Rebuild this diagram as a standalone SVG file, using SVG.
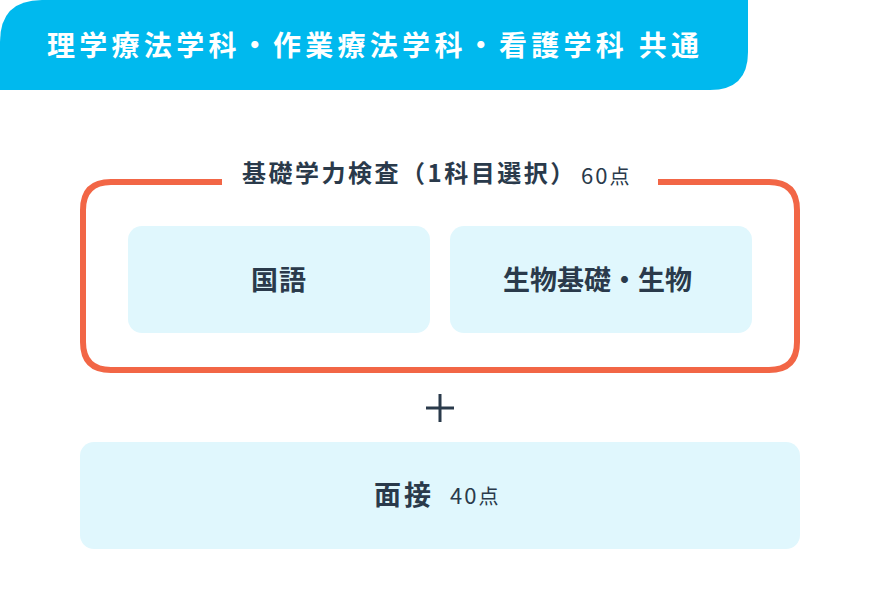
<svg xmlns="http://www.w3.org/2000/svg" width="880" height="614" viewBox="0 0 880 614">
<style>
.jp{font-family:"Noto Sans CJK JP","Noto Sans",sans-serif;}
.b{font-weight:700;fill:#2a3a4b;font-size:27px;}
.r{font-weight:400;fill:#2a3a4b;font-size:20px;}
.num{font-size:22px;letter-spacing:2px;}
.box{fill:#e0f7fd;}
</style>
<rect width="880" height="614" fill="#ffffff"/>
<g id="header">
<path d="M0,90 L0,42 Q0,0 42,0 L748,0 L748,52 Q748,90 710,90 Z" fill="#00b9ee"/>
<text class="jp" x="47" y="56" font-size="28" font-weight="700" fill="#ffffff" textLength="652" lengthAdjust="spacing">理学療法学科・作業療法学科・看護学科 共通</text>
</g>
<g id="group-basic">
<path d="M222,182 L111,182 Q83,182 83,210 L83,342 Q83,370 111,370 L769,370 Q797,370 797,342 L797,210 Q797,182 769,182 L658,182" fill="none" stroke="#f26646" stroke-width="6"/>
<text class="jp" x="242" y="182" font-size="24" font-weight="700" fill="#2a3a4b" letter-spacing="2.5">基礎学力検査（1科目選択）</text>
<text class="jp r" x="581" y="184"><tspan class="num">60</tspan><tspan>点</tspan></text>
</g>
<g id="node-kokugo">
<rect class="box" x="128" y="226" width="302" height="107" rx="14"/>
<text class="jp b" x="251" y="290" letter-spacing="1">国語</text>
</g>
<g id="node-biology">
<rect class="box" x="450" y="226" width="302" height="107" rx="14"/>
<text class="jp b" x="503" y="290">生物基礎・生物</text>
</g>
<g id="connectors">
<path d="M426,408 H454 M440,394 V422" stroke="#2a3a4b" stroke-width="3" fill="none"/>
</g>
<g id="node-interview">
<rect class="box" x="80" y="442" width="720" height="107" rx="14"/>
<text class="jp b" x="374" y="505" letter-spacing="3">面接</text>
<text class="jp r" x="450" y="504"><tspan class="num">40</tspan><tspan>点</tspan></text>
</g>
</svg>
